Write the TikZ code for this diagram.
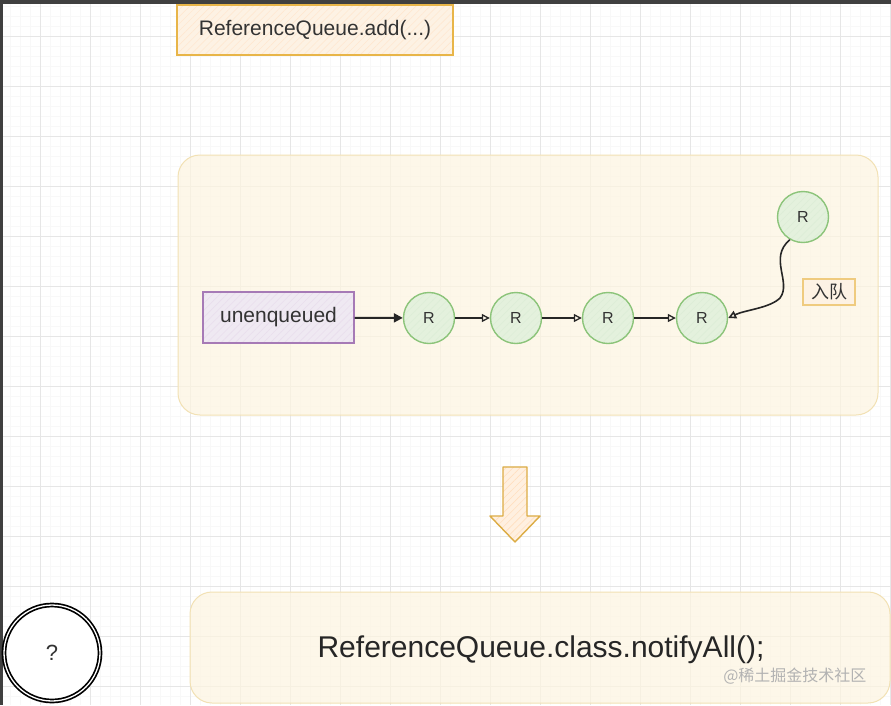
\documentclass[tikz,border=0pt]{standalone}
\usepackage{fontspec}
\setmainfont{Liberation Sans}
\newfontfamily\cjk{Noto Sans CJK SC}
\usetikzlibrary{arrows.meta,patterns.meta}
\definecolor{gridminor}{HTML}{F8F8F8}
\definecolor{gridmajor}{HTML}{E6E6E6}
\definecolor{orangeline}{HTML}{E8B548}
\definecolor{orangefill}{HTML}{FDF2E4}
\definecolor{panelline}{HTML}{F2E1B4}
\definecolor{panelfill}{HTML}{FDF5E0}
\definecolor{purpleline}{HTML}{A67AB6}
\definecolor{purplefill}{HTML}{EFE9F2}
\definecolor{greenline}{HTML}{8CC47A}
\definecolor{greenfill}{HTML}{E4F1DD}
\definecolor{textgray}{HTML}{333333}
\begin{document}
\begin{tikzpicture}[x=1pt,y=-1pt,
  hatch/.style 2 args={preaction={fill=#1},pattern={Lines[angle=45,distance=5pt,line width=0.6pt]},pattern color=#2},
  codebox/.style={draw=orangeline,line width=1.4pt,hatch={orangefill}{orange!18},
    minimum width=276pt,minimum height=50pt,font=\fontsize{21}{25}\selectfont,text=textgray},
  panel/.style={draw=panelline,line width=1pt,fill=panelfill,fill opacity=0.7,text opacity=1,
    rounded corners=22pt},
  listbox/.style={draw=purpleline,line width=1.4pt,hatch={purplefill}{purpleline!25},
    minimum width=151pt,minimum height=51pt,font=\fontsize{21}{25}\selectfont,text=textgray},
  refnode/.style={circle,draw=greenline,line width=1.4pt,hatch={greenfill}{greenline!30},
    minimum size=51pt,inner sep=0pt,font=\fontsize{16}{18}\selectfont,text=textgray},
  link/.style={-{Triangle[open,length=8pt,width=8pt]},line width=1.3pt,black!85},
  tagbox/.style={draw=orangeline!70,line width=1.2pt,fill=orangefill,
    minimum width=52pt,minimum height=26pt,inner sep=0pt,font=\cjk\fontsize{18}{20}\selectfont,text=textgray}]
  \useasboundingbox (0,0) rectangle (891,705);
  % Background grid
  \fill[white] (0,0) rectangle (891,705);
  \foreach \gx in {0,10,...,890} \draw[gridminor,line width=0.6pt] (\gx,0) -- (\gx,705);
  \foreach \gy in {6,16,...,705} \draw[gridminor,line width=0.6pt] (0,\gy) -- (891,\gy);
  \foreach \gx in {40,90,...,890} \draw[gridmajor,line width=0.8pt] (\gx,0) -- (\gx,705);
  \foreach \gy in {36,86,...,705} \draw[gridmajor,line width=0.8pt] (0,\gy) -- (891,\gy);
  % Window frame
  \fill[black!75] (0,0) rectangle (891,4);
  \fill[black!75] (0,0) rectangle (3,705);

  % Call
  \node[codebox] (add) at (315,30) {ReferenceQueue.add(...)};

  % Queue
  \node[panel,minimum width=700pt,minimum height=260pt] (queue) at (528,285) {};
  \node[listbox] (head) at (278.5,317.5) {unenqueued};
  \node[refnode] (r1) at (429,318) {R};
  \node[refnode] (r2) at (516,318) {R};
  \node[refnode] (r3) at (608,318) {R};
  \node[refnode] (r4) at (702,318) {R};
  \node[refnode] (rnew) at (803,217) {R};
  \node[tagbox] (enq) at (829,292) {入队};

  % Arrows
  \draw[-{Triangle[length=9pt,width=9pt]},line width=2pt,black!85] (head) -- (r1);
  \draw[link] (r1) -- (r2);
  \draw[link] (r2) -- (r3);
  \draw[link] (r3) -- (r4);
  \draw[link,line width=1.6pt] (rnew.240) .. controls (768,258) and (792,282) .. (780,298)
    .. controls (770,308) and (745,310) .. (r4.east);

  % Down arrow
  \draw[draw=orangeline!95!black,line width=1.4pt,hatch={orange!12}{orange!25},line join=round]
    (503,467) -- (527,467) -- (527,516) -- (540,516) -- (515,542) -- (490,516) -- (503,516) -- cycle;

  % Notify
  \node[panel,minimum width=700pt,minimum height=111pt] (notify) at (540,647.5) {};
  \node[font=\fontsize{30}{34}\selectfont,text=black!85] (call) at (541,650) {ReferenceQueue.class.notifyAll();};
  \node[anchor=east,font=\cjk\fontsize{16}{18}\selectfont,text=black!30] (mark) at (870,676) {@稀土掘金技术社区};

  % Question
  \node[circle,draw=black,double=white,double distance=1.3pt,line width=1.7pt,fill=white,
    minimum size=96pt,font=\fontsize{22}{26}\selectfont,text=textgray] (what) at (52,653) {?};
\end{tikzpicture}
\end{document}
